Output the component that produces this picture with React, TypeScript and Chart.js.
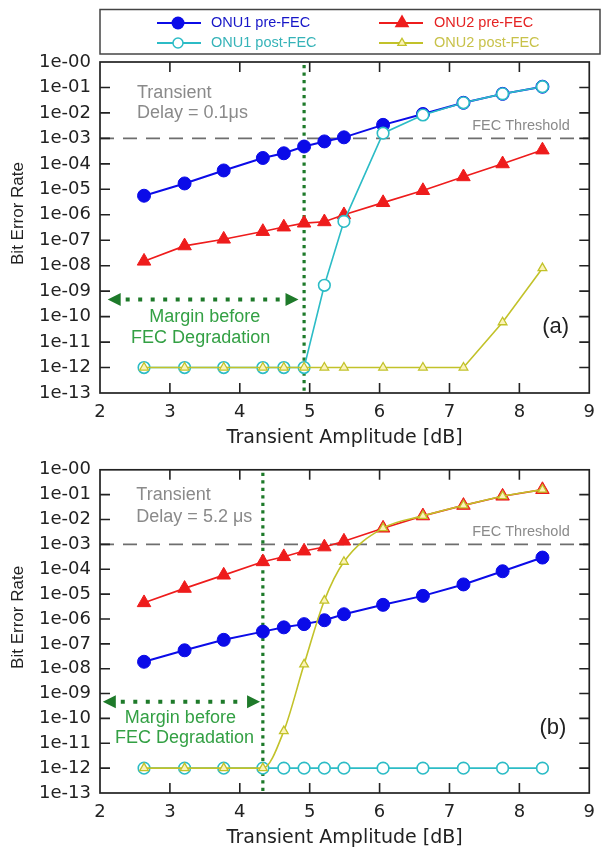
import React, { useEffect, useRef } from 'react';
import { Chart, registerables } from 'chart.js';

Chart.register(...registerables);

// ---------- data ----------
const xAmplitude = [2.63, 3.21, 3.77, 4.33, 4.63, 4.92, 5.21, 5.49, 6.05, 6.62, 7.2, 7.76, 8.33];

// panel (a): transient delay 0.1 us
const aOnu1Pre = [5.6e-6, 1.7e-5, 5.5e-5, 1.7e-4, 2.6e-4, 4.8e-4, 7.6e-4, 1.1e-3, 3.4e-3, 9.1e-3, 2.5e-2, 5.6e-2, 1.07e-1];
const aOnu1Post = [1e-12, 1e-12, 1e-12, 1e-12, 1e-12, 1e-12, 1.7e-9, 5.5e-7, 1.6e-3, 8.3e-3, 2.5e-2, 5.6e-2, 1.07e-1];
const aOnu2Pre = [1.5e-8, 6e-8, 1.1e-7, 2.2e-7, 3.3e-7, 4.7e-7, 5.3e-7, 1e-6, 3e-6, 8.9e-6, 3.1e-5, 1e-4, 3.5e-4];
const aOnu2Post = [1e-12, 1e-12, 1e-12, 1e-12, 1e-12, 1e-12, 1e-12, 1e-12, 1e-12, 1e-12, 1e-12, 6e-11, 8e-9];

// panel (b): transient delay 5.2 us
const bOnu1Pre = [1.9e-8, 5.5e-8, 1.45e-7, 3.1e-7, 4.6e-7, 6.2e-7, 8.9e-7, 1.55e-6, 3.7e-6, 8.5e-6, 2.45e-5, 8.3e-5, 2.95e-4];
const bOnu1Post = [1e-12, 1e-12, 1e-12, 1e-12, 1e-12, 1e-12, 1e-12, 1e-12, 1e-12, 1e-12, 1e-12, 1e-12, 1e-12];
const bOnu2Pre = [4.5e-6, 1.7e-5, 5.8e-5, 2e-4, 3.2e-4, 5.4e-4, 7.9e-4, 1.35e-3, 4.5e-3, 1.4e-2, 3.7e-2, 8.7e-2, 1.6e-1];
const bOnu2Post = [1e-12, 1e-12, 1e-12, 1e-12, 3.1e-11, 1.5e-8, 5.5e-6, 2e-4, 4.5e-3, 1.4e-2, 3.7e-2, 8.7e-2, 1.6e-1];

const seriesNames = ['ONU1 pre-FEC', 'ONU1 post-FEC', 'ONU2 pre-FEC', 'ONU2 post-FEC'];
const xTickValues = [2, 3, 4, 5, 6, 7, 8, 9];
const xTickLabels = ['2', '3', '4', '5', '6', '7', '8', '9'];
const yTickLabels = ['1e-00', '1e-01', '1e-02', '1e-03', '1e-04', '1e-05', '1e-06', '1e-07', '1e-08', '1e-09', '1e-10', '1e-11', '1e-12', '1e-13'];
const fecThreshold = 1e-3;
const marginEdgeA = 4.92;
const marginEdgeB = 4.33;

// ---------- styles ----------
const BLUE = '#0b0be8';
const CYAN = '#2cbcc6';
const RED = '#ee1c1c';
const OLIVE = '#c2c22a';
const GREEN_DOT = '#1e7a2a';
const GREEN_TXT = '#33a044';
const TXT_FONT = '"Liberation Sans", Arial, sans-serif';
const TICK_FONT = '"DejaVu Sans", sans-serif';

const pts = (ys: number[]) => ys.map((v, i) => ({ x: xAmplitude[i], y: v }));

function datasets(d: number[][], curvedLast: boolean) {
  return [
    {
      label: seriesNames[0], data: pts(d[0]), borderColor: BLUE, backgroundColor: BLUE,
      borderWidth: 2, pointStyle: 'circle', pointRadius: 6.5, pointBorderWidth: 1,
      pointBackgroundColor: BLUE, pointBorderColor: BLUE, order: 4,
    },
    {
      label: seriesNames[2], data: pts(d[2]), borderColor: RED, backgroundColor: RED,
      borderWidth: 1.6, pointStyle: 'triangle', pointRadius: 7.8, pointBorderWidth: 1,
      pointBackgroundColor: RED, pointBorderColor: RED, order: 3,
    },
    {
      label: seriesNames[1], data: pts(d[1]), borderColor: CYAN, backgroundColor: '#ffffff',
      borderWidth: 1.6, pointStyle: 'circle', pointRadius: 5.8, pointBorderWidth: 1.6,
      pointBackgroundColor: '#ffffff', pointBorderColor: CYAN, order: 2,
    },
    {
      label: seriesNames[3], data: pts(d[3]), borderColor: OLIVE, backgroundColor: '#fbf5c4',
      borderWidth: 1.6, pointStyle: 'triangle', pointRadius: 5, pointBorderWidth: 1.3,
      pointBackgroundColor: '#fbf3b8', pointBorderColor: OLIVE, order: 1,
      cubicInterpolationMode: curvedLast ? 'monotone' : 'default',
    },
  ];
}

function drawTri(ctx: CanvasRenderingContext2D, x: number, y: number, r: number) {
  ctx.beginPath();
  for (let k = 0; k < 3; k++) {
    const a = (k * 2 * Math.PI) / 3;
    const px = x + Math.sin(a) * r;
    const py = y - Math.cos(a) * r;
    if (k === 0) ctx.moveTo(px, py); else ctx.lineTo(px, py);
  }
  ctx.closePath();
}

const annotationPlugin = {
  id: 'berAnnotations',
  beforeDatasetsDraw(chart: any, _a: any, o: any) {
    const { ctx, chartArea: ca, scales } = chart;
    const x = scales.x, y = scales.y;
    ctx.save();
    // FEC threshold
    const yT = y.getPixelForValue(fecThreshold);
    ctx.strokeStyle = '#6e6e6e';
    ctx.lineWidth = 1.6;
    ctx.setLineDash([14, 9]);
    ctx.beginPath();
    ctx.moveTo(ca.left, yT);
    ctx.lineTo(ca.right, yT);
    ctx.stroke();
    // vertical margin line
    const xv = x.getPixelForValue(o.edge);
    ctx.strokeStyle = GREEN_DOT;
    ctx.lineWidth = 3.2;
    ctx.setLineDash([3.2, 4.3]);
    ctx.beginPath();
    ctx.moveTo(xv, ca.top + 3);
    ctx.lineTo(xv, ca.bottom);
    ctx.stroke();
    // arrow
    const ya = y.getPixelForValue(o.arrowY);
    const x1 = x.getPixelForValue(o.arrowFrom);
    const x2 = x.getPixelForValue(o.arrowTo);
    const head = 13, hh = 6.5;
    ctx.lineWidth = 4;
    ctx.setLineDash([4, 8.5]);
    ctx.beginPath();
    ctx.moveTo(x1 + head + 5, ya);
    ctx.lineTo(x2 - head - 3, ya);
    ctx.stroke();
    ctx.setLineDash([]);
    ctx.fillStyle = GREEN_DOT;
    ctx.beginPath();
    ctx.moveTo(x1, ya); ctx.lineTo(x1 + head, ya - hh); ctx.lineTo(x1 + head, ya + hh); ctx.closePath();
    ctx.fill();
    ctx.beginPath();
    ctx.moveTo(x2, ya); ctx.lineTo(x2 - head, ya - hh); ctx.lineTo(x2 - head, ya + hh); ctx.closePath();
    ctx.fill();
    ctx.restore();
  },
  afterDraw(chart: any, _a: any, o: any) {
    const { ctx, chartArea: ca, scales } = chart;
    const x = scales.x, y = scales.y;
    ctx.save();
    // frame
    ctx.strokeStyle = '#222';
    ctx.lineWidth = 1.7;
    ctx.setLineDash([]);
    ctx.strokeRect(ca.left, ca.top, ca.right - ca.left, ca.bottom - ca.top);
    // inward ticks
    const tl = 10;
    ctx.lineWidth = 1.6;
    ctx.beginPath();
    xTickValues.slice(1, -1).forEach((v) => {
      const px = x.getPixelForValue(v);
      ctx.moveTo(px, ca.bottom); ctx.lineTo(px, ca.bottom - tl);
      ctx.moveTo(px, ca.top); ctx.lineTo(px, ca.top + tl);
    });
    for (let e = 1; e <= 12; e++) {
      const py = y.getPixelForValue(Math.pow(10, -e));
      ctx.moveTo(ca.left, py); ctx.lineTo(ca.left + tl, py);
      ctx.moveTo(ca.right, py); ctx.lineTo(ca.right - tl, py);
    }
    ctx.stroke();

    // y title
    ctx.save();
    ctx.translate(18.5, (ca.top + ca.bottom) / 2 - 14);
    ctx.rotate(-Math.PI / 2);
    ctx.font = `17px ${TXT_FONT}`;
    ctx.fillStyle = '#222';
    ctx.textAlign = 'center';
    ctx.textBaseline = 'middle';
    ctx.fillText('Bit Error Rate', 0, 0);
    ctx.restore();

    // FEC threshold label
    ctx.font = `14.5px ${TXT_FONT}`;
    ctx.fillStyle = '#8a8a8a';
    ctx.textAlign = 'right';
    ctx.textBaseline = 'middle';
    ctx.fillText('FEC Threshold', x.getPixelForValue(o.fecLabelX), y.getPixelForValue(fecThreshold) - 12.5);

    // Transient delay text
    ctx.font = `18px ${TXT_FONT}`;
    ctx.fillStyle = '#8a8a8a';
    ctx.textAlign = 'left';
    ctx.fillText('Transient', x.getPixelForValue(o.delayX), y.getPixelForValue(o.delayY1));
    ctx.fillText(o.delayText, x.getPixelForValue(o.delayX), y.getPixelForValue(o.delayY2));

    // margin text
    ctx.fillStyle = GREEN_TXT;
    ctx.textAlign = 'center';
    ctx.fillText('Margin before', x.getPixelForValue(o.marginX1), y.getPixelForValue(o.marginY1));
    ctx.fillText('FEC Degradation', x.getPixelForValue(o.marginX2), y.getPixelForValue(o.marginY2));

    // panel label
    ctx.font = `22px ${TXT_FONT}`;
    ctx.fillStyle = '#222';
    ctx.fillText(o.panel, x.getPixelForValue(o.panelX), y.getPixelForValue(o.panelY));

    // legend
    if (o.legend) {
      ctx.strokeStyle = '#444';
      ctx.lineWidth = 1.5;
      ctx.strokeRect(100, 9.5, 500, 44.5);
      const rows = [23, 43];
      const cols = [{ l0: 157, l1: 201, m: 178, t: 211 }, { l0: 379, l1: 423, m: 402, t: 434 }];
      const items = [
        { c: 0, r: 0, color: BLUE, txt: '#1616c8', kind: 'fcircle' },
        { c: 0, r: 1, color: CYAN, txt: '#36b3b8', kind: 'ocircle' },
        { c: 1, r: 0, color: RED, txt: '#e52222', kind: 'ftri' },
        { c: 1, r: 1, color: OLIVE, txt: '#c8c24a', kind: 'otri' },
      ];
      const names = [seriesNames[0], seriesNames[1], seriesNames[2], seriesNames[3]];
      items.forEach((it, i) => {
        const col = cols[it.c];
        const yy = rows[it.r];
        ctx.strokeStyle = it.color;
        ctx.lineWidth = 2;
        ctx.beginPath();
        ctx.moveTo(col.l0, yy); ctx.lineTo(col.l1, yy);
        ctx.stroke();
        if (it.kind === 'fcircle') {
          ctx.fillStyle = it.color;
          ctx.beginPath(); ctx.arc(col.m, yy, 6.5, 0, Math.PI * 2); ctx.fill();
        } else if (it.kind === 'ocircle') {
          ctx.fillStyle = '#fff'; ctx.lineWidth = 1.5;
          ctx.beginPath(); ctx.arc(col.m, yy, 5, 0, Math.PI * 2); ctx.fill(); ctx.stroke();
        } else if (it.kind === 'ftri') {
          ctx.fillStyle = it.color;
          drawTri(ctx, col.m, yy, 8.5); ctx.fill();
        } else {
          ctx.fillStyle = '#fbf3b8'; ctx.lineWidth = 1.3;
          drawTri(ctx, col.m, yy, 4.8); ctx.fill(); ctx.stroke();
        }
        ctx.font = `14.5px ${TXT_FONT}`;
        ctx.fillStyle = it.txt;
        ctx.textAlign = 'left';
        ctx.textBaseline = 'middle';
        ctx.fillText(names[i], col.t, yy);
      });
    }
    ctx.restore();
  },
};

function buildConfig(p: any): any {
  return {
    type: 'line',
    data: { datasets: datasets(p.series, p.curvedLast) },
    plugins: [annotationPlugin],
    options: {
      responsive: false,
      animation: false,
      devicePixelRatio: 1,
      events: [],
      layout: { padding: { top: p.padTop, left: 0, right: 6, bottom: 0 } },
      elements: { line: { tension: 0 } },
      plugins: {
        legend: { display: false },
        tooltip: { enabled: false },
        berAnnotations: p.ann,
      },
      scales: {
        x: {
          type: 'linear',
          min: 2,
          max: 9,
          grid: { display: false, drawTicks: false },
          border: { display: false },
          afterBuildTicks: (s: any) => { s.ticks = xTickValues.map((v) => ({ value: v })); },
          afterFit: (s: any) => { s.height = 57; },
          ticks: {
            padding: 9,
            color: '#222',
            font: { family: TICK_FONT, size: 18 },
            callback: (v: number) => xTickLabels[xTickValues.indexOf(Math.round(v))] ?? '',
          },
          title: {
            display: true,
            text: 'Transient Amplitude [dB]',
            color: '#222',
            font: { family: TICK_FONT, size: 19 },
            padding: { top: 0, bottom: 1 },
          },
        },
        y: {
          type: 'logarithmic',
          min: 1e-13,
          max: 1,
          grid: { display: false, drawTicks: false },
          border: { display: false },
          afterBuildTicks: (s: any) => {
            s.ticks = yTickLabels.map((_, i) => ({ value: Math.pow(10, -i) })).reverse();
          },
          afterFit: (s: any) => { s.width = 100; },
          ticks: {
            padding: 9,
            color: '#222',
            font: { family: TICK_FONT, size: 18 },
            autoSkip: false,
            callback: (v: number) => yTickLabels[Math.round(-Math.log10(v))] ?? '',
          },
        },
      },
    },
  };
}

const panelA = {
  series: [aOnu1Pre, aOnu1Post, aOnu2Pre, aOnu2Post],
  curvedLast: false,
  padTop: 62,
  ann: {
    legend: true,
    edge: marginEdgeA,
    arrowY: 4.7e-10, arrowFrom: 2.11, arrowTo: 4.84,
    marginX1: 3.5, marginY1: 1e-10, marginX2: 3.44, marginY2: 1.5e-11,
    delayX: 2.53, delayY1: 6e-2, delayY2: 1e-2, delayText: 'Delay = 0.1μs',
    panel: '(a)', panelX: 8.52, panelY: 4.1e-11,
    fecLabelX: 8.72,
  },
};

const panelB = {
  series: [bOnu1Pre, bOnu1Post, bOnu2Pre, bOnu2Post],
  curvedLast: true,
  padTop: 13,
  ann: {
    legend: false,
    edge: marginEdgeB,
    arrowY: 4.7e-10, arrowFrom: 2.04, arrowTo: 4.29,
    marginX1: 3.15, marginY1: 1e-10, marginX2: 3.21, marginY2: 1.6e-11,
    delayX: 2.52, delayY1: 9.5e-2, delayY2: 1.3e-2, delayText: 'Delay = 5.2 μs',
    panel: '(b)', panelX: 8.48, panelY: 4.1e-11,
    fecLabelX: 8.72,
  },
};

function Panel({ cfg, height }: { cfg: any; height: number }) {
  const ref = useRef<HTMLCanvasElement>(null);
  useEffect(() => {
    const chart = new Chart(ref.current as HTMLCanvasElement, buildConfig(cfg));
    return () => chart.destroy();
  }, [cfg]);
  return (
    <canvas
      ref={ref}
      width={604}
      height={height}
      style={{ display: 'block', width: 604, height }}
    />
  );
}

export default function App() {
  return (
    <div style={{ position: 'absolute', left: 0, top: 0, width: 604, height: 850, background: '#fff' }}>
      <Panel cfg={panelA} height={450} />
      <Panel cfg={panelB} height={400} />
    </div>
  );
}
